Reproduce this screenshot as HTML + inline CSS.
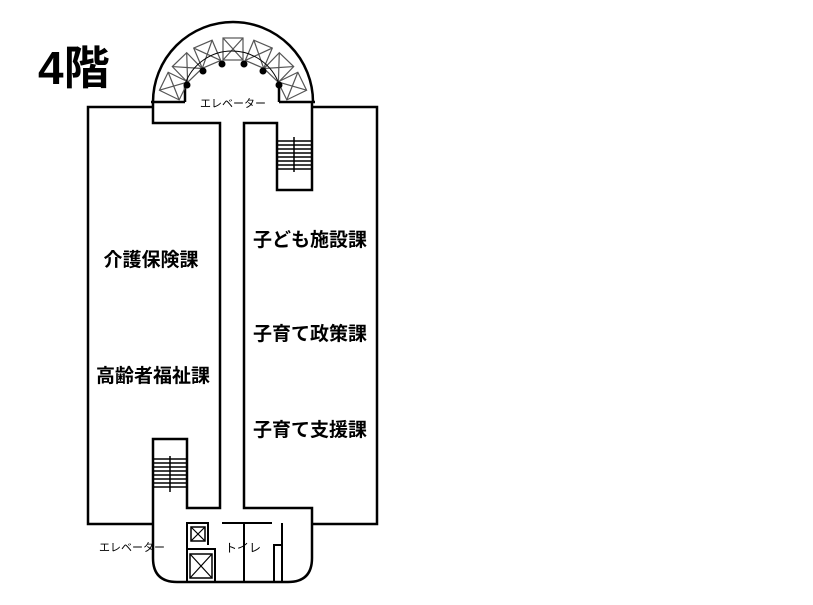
<!DOCTYPE html>
<html><head><meta charset="utf-8"><style>
html,body{margin:0;padding:0;background:#fff;}
svg{display:block}
text{font-family:"Liberation Sans","Noto Sans CJK JP",sans-serif;fill:#000}
</style></head><body>
<svg width="813" height="605" viewBox="0 0 813 605" xmlns="http://www.w3.org/2000/svg">
<text x="38" y="84" font-size="46" font-weight="bold">4階</text>
<g fill="none" stroke="#000" stroke-width="2.5">
<polyline points="153,107 88,107 88,524 153,524"/>
<polyline points="313,107 377,107 377,524 312,524"/>
<path d="M153,102 A80,80 0 0 1 313,102"/>
<line x1="151" y1="102" x2="185" y2="102"/>
<line x1="279" y1="102" x2="315" y2="102"/>
<line x1="185" y1="102" x2="185" y2="84"/>
<line x1="279" y1="102" x2="279" y2="84"/>
<path d="M153,102 L153,123 L220,123 L220,508 L187,508 L187,439 L153,439 L153,558 Q153,582 177,582 L288,582 Q312,582 312,558 L312,508 L244,508 L244,123 L277,123 L277,190 L312,190 L312,102"/>
</g>
<g fill="none" stroke="#000" stroke-width="1.5">
<g>
<line x1="277" y1="141" x2="312" y2="141"/><line x1="277" y1="145" x2="312" y2="145"/>
<line x1="277" y1="149" x2="312" y2="149"/><line x1="277" y1="153" x2="312" y2="153"/>
<line x1="277" y1="157" x2="312" y2="157"/><line x1="277" y1="161" x2="312" y2="161"/>
<line x1="277" y1="165" x2="312" y2="165"/><line x1="277" y1="169" x2="312" y2="169"/>
<line x1="294" y1="137" x2="294" y2="172"/>
</g>
<g>
<line x1="153" y1="459" x2="187" y2="459"/><line x1="153" y1="463" x2="187" y2="463"/>
<line x1="153" y1="467" x2="187" y2="467"/><line x1="153" y1="471" x2="187" y2="471"/>
<line x1="153" y1="475" x2="187" y2="475"/><line x1="153" y1="479" x2="187" y2="479"/>
<line x1="153" y1="483" x2="187" y2="483"/><line x1="153" y1="487" x2="187" y2="487"/>
<line x1="170" y1="456" x2="170" y2="492"/>
</g>
</g>
<g fill="none" stroke="#000" stroke-width="2">
<polyline points="187,582 187,523 208,523 208,545"/>
<polyline points="187,549 215,549 215,582"/>
<rect x="191" y="527" width="14" height="14" stroke-width="1.5"/>
<path d="M191,527 L205,541 M205,527 L191,541" stroke-width="1.2"/>
<rect x="190" y="554" width="22" height="24" stroke-width="1.5"/>
<path d="M190,554 L212,578 M212,554 L190,578" stroke-width="1.2"/>
<line x1="222" y1="523" x2="272" y2="523"/>
<line x1="244" y1="523" x2="244" y2="582"/>
<line x1="282" y1="523" x2="282" y2="582"/>
<polyline points="274,582 274,545 282,545"/>
</g>
<g stroke="#555" stroke-width="1.2" fill="none">
<g transform="rotate(-64 233 115)"><rect x="223" y="38" width="20" height="22"/><path d="M223,38 L243,60 M243,38 L223,60"/></g>
<g transform="rotate(-44 233 115)"><rect x="223" y="38" width="20" height="22"/><path d="M223,38 L243,60 M243,38 L223,60"/></g>
<g transform="rotate(-23 233 115)"><rect x="223" y="38" width="20" height="22"/><path d="M223,38 L243,60 M243,38 L223,60"/></g>
<g transform="rotate(0 233 115)"><rect x="223" y="38" width="20" height="22"/><path d="M223,38 L243,60 M243,38 L223,60"/></g>
<g transform="rotate(23 233 115)"><rect x="223" y="38" width="20" height="22"/><path d="M223,38 L243,60 M243,38 L223,60"/></g>
<g transform="rotate(44 233 115)"><rect x="223" y="38" width="20" height="22"/><path d="M223,38 L243,60 M243,38 L223,60"/></g>
<g transform="rotate(64 233 115)"><rect x="223" y="38" width="20" height="22"/><path d="M223,38 L243,60 M243,38 L223,60"/></g>
</g>
<g fill="#000">
<circle cx="187" cy="85" r="3.5"/><circle cx="203" cy="71" r="3.5"/><circle cx="222" cy="64" r="3.5"/>
<circle cx="244" cy="64" r="3.5"/><circle cx="263" cy="71" r="3.5"/><circle cx="279" cy="85" r="3.5"/>
</g>
<path d="M185,84 A50,50 0 0 1 279,84" fill="none" stroke="#000" stroke-width="1"/>
<text x="233" y="107" font-size="11" text-anchor="middle">エレベーター</text>
<text x="132" y="551" font-size="11" text-anchor="middle">エレベーター</text>
<text x="243" y="552" font-size="12" text-anchor="middle">トイレ</text>
<g font-size="19" font-weight="bold" text-anchor="middle">
<text x="151" y="266">介護保険課</text>
<text x="153" y="382">高齢者福祉課</text>
<text x="310" y="246">子ども施設課</text>
<text x="310" y="340">子育て政策課</text>
<text x="310" y="436">子育て支援課</text>
</g>
</svg>
</body></html>
